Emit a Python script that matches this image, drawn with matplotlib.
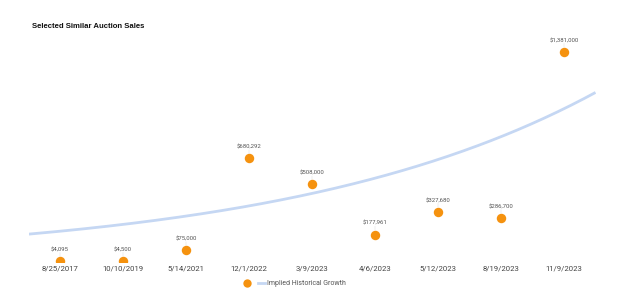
import numpy as np
import matplotlib
matplotlib.use("Agg")
import matplotlib.pyplot as plt
from matplotlib.lines import Line2D

dates = ["8/25/2017", "10/10/2019", "5/14/2021", "12/1/2022", "3/9/2023",
         "4/6/2023", "5/12/2023", "8/19/2023", "11/9/2023"]
prices = [4095, 4500, 75000, 680292, 508000, 177961, 327680, 286700, 1381000]
price_labels = ["$4,095", "$4,500", "$75,000", "$680,292", "$508,000",
                "$177,961", "$327,680", "$286,700", "$1,381,000"]
# implied exponential growth trend: value = trend_base * exp(trend_rate * index)
trend_base = 200000
trend_rate = 0.202

W, H = 624, 304
fig = plt.figure(figsize=(W / 100, H / 100), dpi=100)
fig.patch.set_facecolor("white")
ax = fig.add_axes([28.5 / W, 42.4 / H, 567 / W, 243 / H])
ax.set_xlim(-0.5, len(dates) - 0.5)
ax.set_ylim(0, 1600000)
for s in ax.spines.values():
    s.set_visible(False)

x = np.arange(len(dates))
xs = np.linspace(-0.5, len(dates) - 0.5, 300)
ax.plot(xs, trend_base * np.exp(trend_rate * xs), color="#c5d7f3", lw=2.0,
        solid_capstyle="butt", zorder=2)
ax.plot(x, prices, "o", color="#f5920f", ms=6.8, mec="none", zorder=3, clip_on=True)

for xi, p, lab in zip(x, prices, price_labels):
    ax.annotate(lab, xy=(xi, p), xytext=(0, 6.3), textcoords="offset points",
                ha="center", va="bottom", fontsize=4.3, color="#555555",
                family="Roboto")
    ax.annotate("", xy=(xi, p), xytext=(0, 6.1), textcoords="offset points",
                arrowprops=dict(arrowstyle="-", color="#e0e0e0", lw=0.4,
                                shrinkA=0, shrinkB=3.5))

ax.set_xticks(x)
ax.set_xticklabels(dates, fontsize=5.6, color="#444444", family="Roboto")
ax.tick_params(axis="x", length=0, pad=3)
ax.set_yticks([])

fig.text(32 / W, 1 - 27 / H, "Selected Similar Auction Sales", fontsize=5.6,
         fontweight="bold", color="#111111", family="Liberation Sans",
         va="center", ha="left")

handles = [Line2D([], [], marker="o", ls="none", color="#f5920f", ms=6, mec="none"),
           Line2D([], [], color="#c5d7f3", lw=2)]
leg = fig.legend(handles, ["", "Implied Historical Growth"], loc="center",
                 bbox_to_anchor=(295 / W, 1 - 283.5 / H), ncol=2, frameon=False,
                 handlelength=1.0, handletextpad=0.4,
                 columnspacing=0.6, prop={"family": "Roboto", "size": 5.0})
for t in leg.get_texts():
    t.set_color("#555555")

fig.savefig("out.png", dpi=100, facecolor="white")
